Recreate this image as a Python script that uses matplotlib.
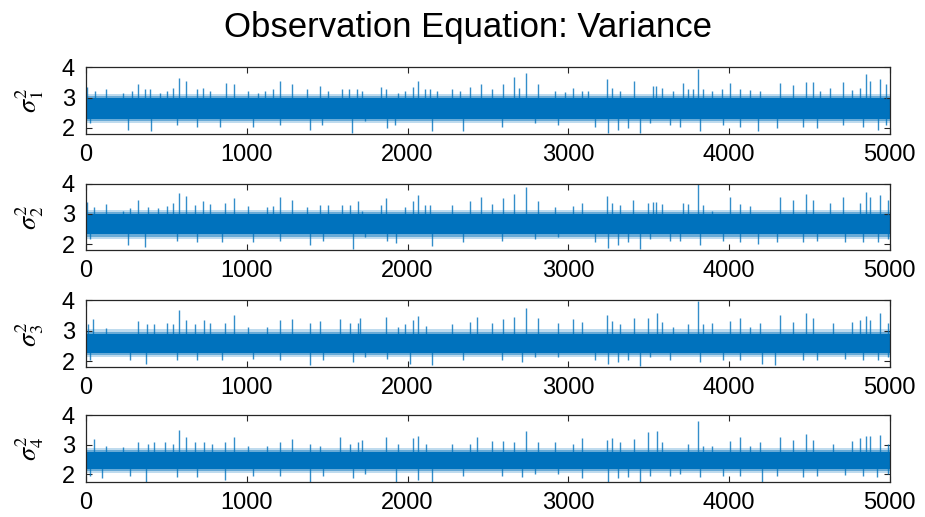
import matplotlib
matplotlib.use('Agg')
import matplotlib.pyplot as plt
import numpy as np

# trace of the variance draws:
# dense core band per panel + the spikes sticking out of it (iteration, value)
n_iter = 5000
ylabels = [r'$\sigma^2_1$', r'$\sigma^2_2$', r'$\sigma^2_3$', r'$\sigma^2_4$']
core_lo = [2.30, 2.32, 2.28, 2.20]
core_hi = [2.98, 2.98, 2.90, 2.74]

p1_up = [(4, 3.36), (56, 3.21), (125, 3.27), (232, 3.16), (284, 3.23), (326, 3.46), (367, 3.27),
         (398, 3.29), (460, 3.16), (506, 3.23), (543, 3.32), (579, 3.66), (622, 3.54), (689, 3.29),
         (730, 3.32), (771, 3.21), (869, 3.47), (921, 3.46), (1010, 3.21), (1072, 3.16), (1113, 3.21),
         (1161, 3.29), (1207, 3.53), (1279, 3.46), (1373, 3.27), (1456, 3.38), (1507, 3.21), (1590, 3.27),
         (1638, 3.27), (1684, 3.29), (1714, 3.21), (1835, 3.36), (1864, 3.29), (1943, 3.16), (1984, 3.21),
         (2036, 3.36), (2063, 3.54), (2108, 3.27), (2139, 3.27), (2181, 3.21), (2274, 3.27), (2326, 3.21),
         (2388, 3.36), (2457, 3.46), (2523, 3.27), (2596, 3.43), (2664, 3.69), (2693, 3.32), (2734, 3.82),
         (2809, 3.43), (2917, 3.21), (2979, 3.18), (3031, 3.32), (3083, 3.21), (3124, 3.21), (3238, 3.62),
         (3269, 3.32), (3321, 3.21), (3406, 3.54), (3524, 3.38), (3545, 3.38), (3584, 3.32), (3652, 3.21),
         (3715, 3.47), (3746, 3.27), (3773, 3.27), (3808, 3.93), (3835, 3.27), (3891, 3.21), (3953, 3.29),
         (4005, 3.47), (4067, 3.27), (4129, 3.24), (4191, 3.21), (4316, 3.47), (4399, 3.40), (4478, 3.51),
         (4523, 3.51), (4565, 3.21), (4627, 3.32), (4710, 3.51), (4762, 3.24), (4813, 3.32), (4851, 3.77),
         (4876, 3.54), (4938, 3.62), (4979, 3.43)]
p1_down = [(25, 2.16), (264, 1.93), (402, 1.88), (564, 2.10), (689, 2.04), (834, 2.04), (1041, 2.04),
           (1207, 2.10), (1393, 1.93), (1466, 2.10), (1652, 1.84), (1735, 2.21), (1870, 1.99), (1922, 2.10),
           (2150, 1.91), (2347, 1.88), (2585, 2.04), (2792, 2.16), (2938, 2.10), (3166, 2.04), (3249, 1.82),
           (3311, 1.93), (3373, 1.99), (3445, 1.82), (3507, 2.16), (3632, 2.10), (3694, 2.04), (3822, 1.91),
           (3963, 2.10), (4067, 2.04), (4181, 1.88), (4295, 1.99), (4461, 2.04), (4544, 1.99), (4710, 2.10),
           (4834, 2.04), (4927, 1.93), (4979, 2.10)]

p2_up = [(4, 3.39), (50, 3.22), (125, 3.31), (232, 3.11), (274, 3.20), (326, 3.47), (388, 3.22),
         (450, 3.20), (502, 3.25), (543, 3.36), (579, 3.70), (622, 3.58), (678, 3.28), (730, 3.43),
         (771, 3.31), (865, 3.36), (921, 3.53), (1010, 3.25), (1124, 3.22), (1165, 3.25), (1207, 3.54),
         (1279, 3.47), (1373, 3.22), (1456, 3.28), (1507, 3.28), (1590, 3.28), (1642, 3.28), (1694, 3.43),
         (1714, 3.11), (1835, 3.28), (1864, 3.51), (1984, 3.22), (2036, 3.43), (2063, 3.62), (2108, 3.28),
         (2139, 3.28), (2274, 3.28), (2388, 3.43), (2457, 3.54), (2523, 3.34), (2596, 3.51), (2664, 3.65),
         (2734, 3.88), (2809, 3.43), (2917, 3.22), (3031, 3.25), (3083, 3.36), (3238, 3.58), (3269, 3.36),
         (3321, 3.28), (3404, 3.45), (3497, 3.36), (3524, 3.39), (3545, 3.39), (3584, 3.31), (3715, 3.36),
         (3746, 3.31), (3808, 4.05), (3835, 3.28), (3891, 3.11), (4005, 3.54), (4067, 3.31), (4129, 3.25),
         (4316, 3.54), (4399, 3.47), (4478, 3.67), (4523, 3.47), (4627, 3.36), (4710, 3.54), (4813, 3.36),
         (4851, 3.73), (4876, 3.54), (4938, 3.62), (4990, 3.47)]
p2_down = [(25, 2.16), (264, 1.97), (367, 1.90), (564, 2.12), (689, 2.07), (844, 2.07), (1041, 2.07),
           (1207, 2.12), (1393, 1.97), (1476, 2.12), (1658, 1.85), (1735, 2.24), (1870, 2.12), (1926, 2.03),
           (2150, 1.93), (2347, 2.07), (2585, 2.12), (2792, 2.18), (2938, 2.24), (3166, 2.07), (3245, 1.88),
           (3311, 1.97), (3373, 2.07), (3445, 1.85), (3507, 2.18), (3632, 2.12), (3694, 2.12), (3822, 1.97),
           (3963, 2.12), (4067, 2.07), (4181, 1.99), (4295, 2.07), (4461, 2.07), (4544, 2.12), (4720, 2.07),
           (4834, 2.07), (4927, 2.07), (4990, 2.18)]

p3_up = [(15, 3.22), (46, 3.38), (125, 3.09), (326, 3.33), (378, 3.22), (423, 3.22), (502, 3.27),
         (543, 3.22), (579, 3.67), (622, 3.35), (678, 3.22), (734, 3.35), (771, 3.27), (865, 3.27),
         (921, 3.52), (1010, 3.11), (1124, 3.11), (1207, 3.35), (1279, 3.38), (1393, 3.27), (1456, 3.33),
         (1580, 3.38), (1642, 3.27), (1694, 3.24), (1704, 3.43), (1864, 3.46), (1943, 3.13), (1984, 3.22),
         (2036, 3.35), (2063, 3.49), (2112, 3.16), (2274, 3.22), (2388, 3.30), (2430, 3.46), (2523, 3.27),
         (2596, 3.38), (2664, 3.46), (2734, 3.74), (2809, 3.41), (2938, 3.24), (3031, 3.38), (3083, 3.30),
         (3238, 3.52), (3269, 3.33), (3321, 3.22), (3406, 3.41), (3497, 3.43), (3549, 3.57), (3584, 3.30),
         (3652, 3.11), (3746, 3.22), (3808, 3.98), (3835, 3.22), (3891, 3.24), (4005, 3.33), (4067, 3.41),
         (4129, 3.11), (4191, 3.24), (4316, 3.52), (4399, 3.30), (4478, 3.57), (4523, 3.41), (4648, 3.24),
         (4762, 3.30), (4813, 3.35), (4851, 3.49), (4876, 3.35), (4938, 3.57), (4990, 3.27)]
p3_down = [(25, 2.02), (274, 2.04), (373, 1.89), (564, 2.02), (689, 2.02), (844, 2.02), (1041, 2.07),
           (1207, 2.02), (1393, 1.86), (1476, 2.02), (1658, 1.96), (1735, 2.13), (1870, 2.08), (2015, 1.91),
           (2150, 1.86), (2347, 2.02), (2585, 2.02), (2710, 1.97), (2792, 2.13), (2938, 2.13), (3166, 2.02),
           (3249, 1.91), (3311, 1.97), (3373, 2.02), (3445, 1.83), (3507, 2.13), (3632, 2.02), (3822, 1.97),
           (3963, 2.02), (4067, 2.02), (4202, 1.91), (4285, 1.86), (4461, 2.02), (4544, 2.02), (4720, 2.08),
           (4834, 2.02), (4927, 2.02), (4990, 2.13)]

p4_up = [(50, 3.19), (125, 2.97), (232, 2.91), (326, 3.11), (388, 3.02), (423, 3.08), (492, 3.11),
         (543, 3.02), (579, 3.49), (622, 3.25), (678, 3.11), (734, 3.11), (782, 3.04), (865, 3.11),
         (921, 3.25), (1010, 2.97), (1124, 2.97), (1207, 3.08), (1279, 3.19), (1393, 3.04), (1456, 2.97),
         (1580, 3.27), (1642, 3.02), (1694, 3.11), (1714, 3.16), (1864, 3.25), (1943, 3.04), (2036, 3.22),
         (2063, 3.30), (2112, 3.02), (2274, 3.02), (2388, 3.02), (2430, 3.25), (2523, 3.13), (2596, 3.13),
         (2664, 3.08), (2734, 3.45), (2809, 3.11), (2917, 3.08), (3031, 3.02), (3083, 3.22), (3238, 3.16),
         (3269, 3.22), (3321, 3.08), (3406, 3.19), (3497, 3.42), (3549, 3.47), (3584, 3.08), (3746, 3.02),
         (3808, 3.81), (3835, 2.97), (3891, 2.97), (4005, 3.13), (4067, 3.27), (4129, 2.97), (4191, 3.08),
         (4316, 3.27), (4399, 3.16), (4478, 3.38), (4523, 3.16), (4648, 3.04), (4762, 3.13), (4813, 3.22),
         (4851, 3.30), (4876, 3.30), (4938, 3.34), (4990, 3.02)]
p4_down = [(25, 1.96), (98, 1.88), (274, 1.96), (373, 1.76), (564, 1.90), (689, 1.90), (865, 1.81),
           (1041, 1.96), (1207, 1.96), (1393, 1.76), (1476, 1.96), (1658, 1.88), (1735, 2.01), (1926, 1.76),
           (2067, 1.81), (2154, 1.76), (2347, 1.96), (2585, 1.96), (2710, 1.90), (2792, 2.01), (2938, 2.01),
           (3083, 1.88), (3245, 1.76), (3311, 1.88), (3373, 1.90), (3445, 1.76), (3507, 1.96), (3632, 1.96),
           (3694, 2.01), (3822, 1.90), (3963, 1.96), (4067, 1.96), (4202, 1.76), (4295, 1.96), (4461, 1.90),
           (4544, 1.96), (4720, 1.99), (4834, 1.96), (4917, 1.90), (4990, 2.01)]

peaks = [p1_up, p2_up, p3_up, p4_up]
troughs = [p1_down, p2_down, p3_down, p4_down]
ylims = [(1.8, 4.0), (1.8, 4.0), (1.8, 4.0), (1.75, 4.0)]

plt.rcParams['font.family'] = ['Liberation Sans', 'DejaVu Sans']
plt.rcParams['mathtext.fontset'] = 'stix'

blue = '#0072BD'
edge = '#262626'

fig = plt.figure(figsize=(9.25, 5.17), dpi=100)
bottoms = [0.741, 0.516, 0.290, 0.068]

for i in range(4):
    ax = fig.add_axes([0.093, bottoms[i], 0.869, 0.129])
    mid = 0.5 * (core_lo[i] + core_hi[i])
    # soft edged core: a few nested bands, lighter towards the outside
    for pad, a in [(0.14, 0.25), (0.07, 0.45), (0.0, 1.0)]:
        ax.fill_between([0, n_iter], core_lo[i] - pad, core_hi[i] + pad, color=blue, lw=0, alpha=a)
    up_x, up_y = zip(*peaks[i])
    dn_x, dn_y = zip(*troughs[i])
    ax.vlines(up_x, mid, up_y, color=blue, lw=1.0, alpha=0.8)
    ax.vlines(dn_x, mid, dn_y, color=blue, lw=1.0, alpha=0.8)

    ax.set_xlim(0, n_iter)
    ax.set_ylim(*ylims[i])
    ax.set_xticks(np.arange(0, 5001, 1000))
    ax.set_yticks([2, 3, 4])
    ax.tick_params(direction='in', length=4, width=0.8, colors=edge,
                   labelsize=17, top=True, right=True)
    ax.tick_params(axis='x', pad=7)
    ax.tick_params(axis='y', pad=8)
    ax.tick_params(labelcolor='black')
    for s in ax.spines.values():
        s.set_color(edge)
        s.set_linewidth(0.9)
    ax.set_ylabel(ylabels[i], fontsize=19)
    ax.yaxis.set_label_coords(-0.05, 0.5)

fig.text(0.506, 0.946, 'Observation Equation: Variance', ha='center', va='center', fontsize=25)

fig.savefig('out.png', dpi=100)
